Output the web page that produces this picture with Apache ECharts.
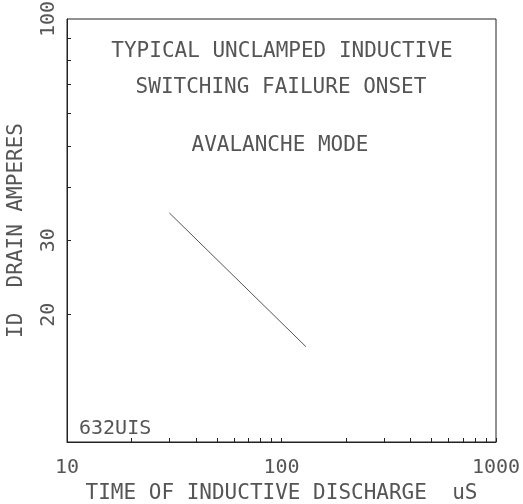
<!DOCTYPE html>
<html lang="en">
<head>
<meta charset="UTF-8">
<title>Unclamped inductive switching</title>
<style>html,body{margin:0;padding:0;background:#fff;}</style>
</head>
<body>
<div id="chart" style="width:523px;height:504px;"></div>
<script src="https://cdn.jsdelivr.net/npm/echarts@6/dist/echarts.min.js"></script>
<script>
// values (log-log)
const timeUs = [30, 130];
const drainAmps = [34.8, 16.8];

const xTickValues = [10, 20, 30, 40, 50, 60, 70, 80, 90, 100, 200, 300, 400, 500, 600, 700, 800, 900, 1000];
const xLabelValues = [10, 100, 1000];
const yTickValues = [20, 30, 40, 50, 60, 70, 80, 90];
const yLabelValues = [20, 30, 100];

const notes = ['TYPICAL UNCLAMPED INDUCTIVE', 'SWITCHING FAILURE ONSET', 'AVALANCHE MODE'];
const partNo = '632UIS';

const FONT = '"DejaVu Sans Mono", "Liberation Mono", monospace';
const INK = '#555';

let chart = echarts.init(document.getElementById('chart'));
let option = {
    animation: false,
    backgroundColor: '#fff',
    grid: {
        left: 67, right: 27, top: 19, bottom: 62,
        outerBoundsMode: 'none',
        show: true, borderColor: '#222', borderWidth: 1
    },
    xAxis: {
        type: 'log', logBase: 10, min: 10, max: 1000,
        name: 'TIME OF INDUCTIVE DISCHARGE  uS',
        nameLocation: 'middle', nameGap: 36,
        nameTextStyle: { fontFamily: FONT, fontSize: 21, color: INK },
        axisLine: { lineStyle: { color: '#222', width: 1 } },
        axisTick: { inside: true, length: 4, customValues: xTickValues, lineStyle: { color: '#222' } },
        axisLabel: {
            customValues: xLabelValues, margin: 16,
            formatter: v => String(v),
            fontFamily: FONT, fontSize: 20, color: INK
        },
        splitLine: { show: false },
        minorTick: { show: false }
    },
    yAxis: {
        type: 'log', logBase: 10, min: 10, max: 100,
        name: 'ID  DRAIN AMPERES',
        nameLocation: 'middle', nameGap: 40,
        nameTextStyle: { fontFamily: FONT, fontSize: 21, color: INK },
        axisLine: { lineStyle: { color: '#222', width: 1 } },
        axisTick: { inside: true, length: 4, customValues: yTickValues, lineStyle: { color: '#222' } },
        axisLabel: {
            customValues: yLabelValues, rotate: 90, margin: 8,
            formatter: v => String(v),
            fontFamily: FONT, fontSize: 20, color: INK
        },
        splitLine: { show: false },
        minorTick: { show: false }
    },
    graphic: [
        { type: 'text', x: 282, y: 41, style: { text: notes[0], font: '21px ' + FONT, fill: INK, textAlign: 'center', textVerticalAlign: 'top' } },
        { type: 'text', x: 281, y: 77, style: { text: notes[1], font: '21px ' + FONT, fill: INK, textAlign: 'center', textVerticalAlign: 'top' } },
        { type: 'text', x: 280, y: 135, style: { text: notes[2], font: '21px ' + FONT, fill: INK, textAlign: 'center', textVerticalAlign: 'top' } },
        { type: 'text', x: 79, y: 419, style: { text: partNo, font: '20px ' + FONT, fill: INK, textVerticalAlign: 'top' } }
    ],
    series: [{
        type: 'line',
        data: timeUs.map((t, i) => [t, drainAmps[i]]),
        showSymbol: false,
        lineStyle: { color: '#555', width: 1 }
    }]
};
chart.setOption(option);
</script>
</body>
</html>
